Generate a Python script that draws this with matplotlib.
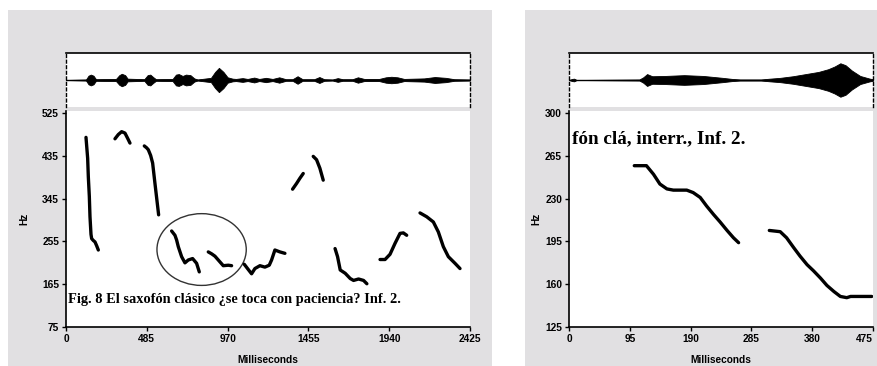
import matplotlib
matplotlib.use("Agg")
import matplotlib.pyplot as plt
from matplotlib.patches import Rectangle, Ellipse

# ---------------- data ----------------
# Left panel pitch contour segments (ms, Hz)
left_seg_t = [
    [120, 130, 134, 140, 144, 150, 154, 164, 174, 184, 194],
    [294, 314, 334, 354, 370, 384],
    [470, 484, 494, 508, 520, 534, 548, 556],
    [634, 654, 664, 674, 694, 714, 734, 760, 784, 800],
    [854, 874, 894, 924, 944, 974, 994],
    [1070, 1094, 1114, 1134, 1164, 1194, 1220, 1234, 1254, 1284, 1314],
    [1360, 1384, 1404, 1424],
    [1484, 1504, 1524, 1544],
    [1615, 1630, 1646, 1676, 1706, 1726, 1756, 1786, 1806],
    [1885, 1915, 1945, 1975, 2005, 2025, 2045],
    [2125, 2165, 2205, 2235, 2265, 2295, 2335, 2365],
]
left_seg_f = [
    [474, 430, 391, 350, 307, 270, 261, 257, 254, 246, 237],
    [471, 480, 486, 483, 472, 462],
    [456, 452, 448, 436, 420, 377, 335, 311],
    [277, 268, 258, 244, 223, 210, 216, 219, 209, 191],
    [233, 229, 224, 212, 204, 205, 204],
    [207, 196, 187, 198, 204, 201, 205, 216, 237, 233, 230],
    [365, 377, 388, 398],
    [434, 427, 409, 384],
    [240, 223, 195, 188, 177, 173, 176, 173, 166],
    [217, 217, 228, 251, 272, 273, 268],
    [315, 307, 296, 275, 244, 223, 209, 198],
]

# Right panel pitch contour segments (ms, Hz)
right_seg_t = [
    [102, 121, 132, 142, 153, 163, 184, 194, 205, 215, 226, 236, 247, 257, 265],
    [313, 330, 340, 351, 361, 372, 382, 393, 403, 414, 424, 434, 440, 473],
]
right_seg_f = [
    [257, 257, 250, 242, 238, 237, 237, 235, 231, 224, 217, 211, 204, 198, 194],
    [204, 203, 198, 190, 183, 176, 171, 165, 159, 154, 150, 149, 150, 150],
]

# Waveform envelopes (ms, relative amplitude)
left_wave_t = [0, 120, 135, 149, 165, 180, 300, 320, 335, 355, 370, 470, 490, 506, 525,
               540, 640, 660, 677, 700, 720, 747, 770, 790, 870, 895, 918, 945, 970,
               1000, 1020, 1060, 1090, 1130, 1160, 1200, 1240, 1280, 1320, 1360, 1390,
               1420, 1490, 1521, 1550, 1600, 1631, 1660, 1720, 1752, 1790, 1880, 1920,
               1953, 1990, 2030, 2150, 2214, 2280, 2330, 2425]
left_wave_a = [0, 0.02, 0.16, 0.2, 0.16, 0.03, 0.04, 0.18, 0.23, 0.18, 0.05, 0.03, 0.18,
               0.2, 0.1, 0.03, 0.04, 0.2, 0.22, 0.15, 0.2, 0.18, 0.06, 0.02, 0.08, 0.3,
               0.45, 0.3, 0.1, 0.05, 0.04, 0.07, 0.04, 0.09, 0.04, 0.08, 0.04, 0.1, 0.03,
               0.03, 0.14, 0.03, 0.03, 0.11, 0.03, 0.02, 0.07, 0.03, 0.03, 0.1, 0.04,
               0.04, 0.1, 0.12, 0.1, 0.04, 0.06, 0.11, 0.08, 0.03, 0.02]
right_wave_t = [0, 5, 8, 12, 110, 116, 122, 130, 150, 180, 210, 240, 255, 267, 300, 314,
                330, 350, 370, 390, 405, 415, 424, 432, 442, 455, 470, 475]
right_wave_a = [0, 0.04, 0.05, 0.0, 0.02, 0.1, 0.22, 0.14, 0.15, 0.18, 0.15, 0.08, 0.04,
                0.02, 0.02, 0.05, 0.08, 0.14, 0.22, 0.3, 0.4, 0.5, 0.62, 0.55, 0.35,
                0.15, 0.05, 0.03]

left_xticks = [0, 485, 970, 1455, 1940, 2425]
left_yticks = [75, 165, 255, 345, 435, 525]
right_xticks = [0, 95, 190, 285, 380, 475]
right_yticks = [125, 160, 195, 230, 265, 300]

left_caption = "Fig. 8 El saxofón clásico ¿se toca con paciencia? Inf. 2."
right_caption = "fón clá, interr., Inf. 2."

# ---------------- figure ----------------
W, H = 877, 366
fig = plt.figure(figsize=(W / 100, H / 100), dpi=100)
fig.patch.set_facecolor("white")

def fx(px):
    return px / W

def fy(py):
    return 1 - py / H

grey = "#e1e0e2"
bg = fig.add_axes([0, 0, 1, 1], zorder=-10)
bg.set_xlim(0, 1)
bg.set_ylim(0, 1)
bg.axis("off")
bg.add_patch(Rectangle((fx(8), 0), fx(492) - fx(8), fy(10), facecolor=grey, edgecolor="none"))
bg.add_patch(Rectangle((fx(525), 0), 1 - fx(525), fy(10), facecolor=grey, edgecolor="none"))

tick_font = dict(family="Liberation Sans", weight="bold", size=7.3)

def wave_axes(x0, x1, t, a, xmax):
    ax = fig.add_axes([fx(x0), fy(107), fx(x1) - fx(x0), fy(53) - fy(107)])
    ax.set_facecolor("white")
    ax.fill_between(t, [-v for v in a], a, color="black", lw=0.6)
    ax.axhline(0, color="black", lw=1.0)
    ax.set_xlim(0, xmax)
    ax.set_ylim(-1, 1)
    ax.set_xticks([])
    ax.set_yticks([])
    ax.spines["bottom"].set_visible(False)
    ax.spines["top"].set_linewidth(1.2)
    for s in ("left", "right"):
        ax.spines[s].set_linestyle((0, (2, 2)))
        ax.spines[s].set_linewidth(1.0)
    return ax

def pitch_axes(x0, x1, seg_t, seg_f, xticks, yticks, ylabelpad):
    ax = fig.add_axes([fx(x0), fy(327), fx(x1) - fx(x0), fy(111) - fy(327)])
    ax.set_facecolor("white")
    for t, f in zip(seg_t, seg_f):
        ax.plot(t, f, color="black", lw=2.4, solid_capstyle="round", solid_joinstyle="round")
    ax.set_xlim(xticks[0], xticks[-1])
    span = yticks[-1] - yticks[0]
    ax.set_ylim(yticks[0], yticks[-1] + span * 0.01)
    ax.set_xticks(xticks)
    ax.set_yticks(yticks)
    ax.set_xticklabels([str(v) for v in xticks], fontdict=tick_font)
    ax.set_yticklabels([str(v) for v in yticks], fontdict=tick_font)
    ax.tick_params(direction="out", length=3, width=1, pad=2)
    ax.spines["top"].set_visible(False)
    ax.spines["right"].set_visible(False)
    ax.spines["left"].set_linewidth(1.2)
    ax.spines["bottom"].set_linewidth(1.2)
    ax.set_xlabel("Milliseconds", fontdict=tick_font, labelpad=8)
    ax.set_ylabel("Hz", fontdict=tick_font, labelpad=ylabelpad)
    return ax

wave_axes(66, 470, left_wave_t, left_wave_a, 2425)
wave_axes(569, 873, right_wave_t, right_wave_a, 475)

axL = pitch_axes(66, 470, left_seg_t, left_seg_f, left_xticks, left_yticks, 9)
axL.add_patch(Ellipse((814, 238), 536, 151, fill=False, edgecolor="#333333", lw=1.0))
axL.text(10, 125, left_caption, family="Liberation Serif", weight="bold", size=10.4,
         va="baseline", ha="left")

axR = pitch_axes(569, 873, right_seg_t, right_seg_f, right_xticks, right_yticks, 3)
axR.get_xticklabels()[-1].set_horizontalalignment("right")
axR.get_xticklabels()[-1].set_x(478)
axR.text(4, 275, right_caption, family="Liberation Serif", weight="bold", size=13.8,
         va="baseline", ha="left")

fig.savefig("out.png", dpi=100, facecolor=fig.get_facecolor())
